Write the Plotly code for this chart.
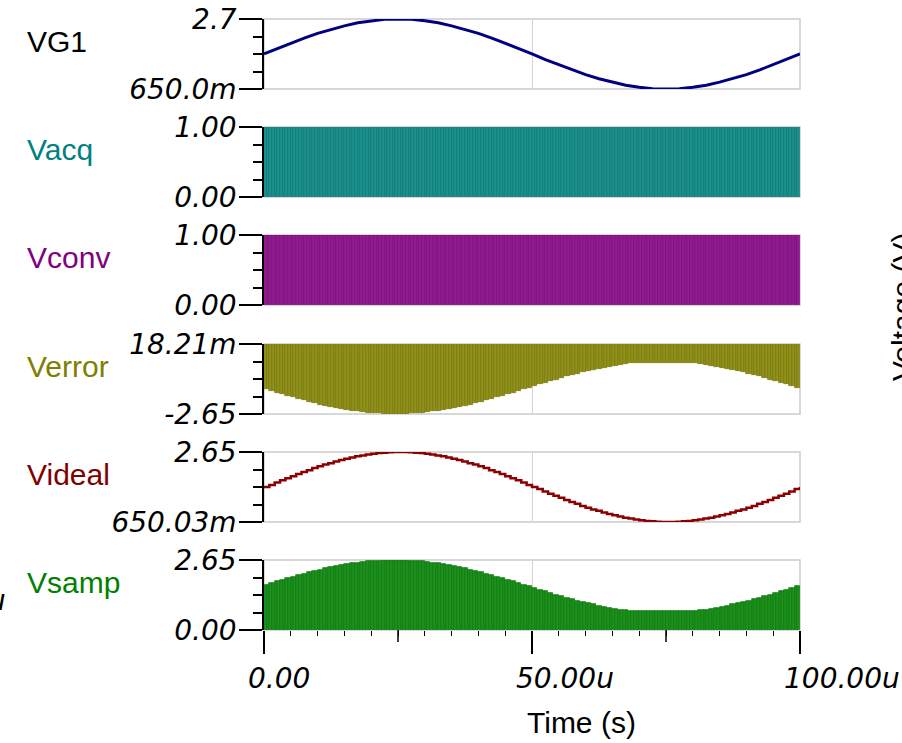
import numpy as np
import plotly.graph_objects as go

# ---- data (time in microseconds, voltages in volts) ----
vg1_t = np.linspace(0, 100, 41)
vg1 = [1.68, 1.84, 1.99, 2.14, 2.28, 2.40, 2.50, 2.59, 2.65, 2.69,
       2.70, 2.69, 2.65, 2.59, 2.50, 2.40, 2.28, 2.14, 1.99, 1.84,
       1.68, 1.51, 1.36, 1.21, 1.07, 0.95, 0.85, 0.76, 0.70, 0.66,
       0.65, 0.66, 0.70, 0.76, 0.85, 0.95, 1.07, 1.21, 1.36, 1.51,
       1.68]

videal_t = np.linspace(0, 100, 101)
videal = [1.65, 1.71, 1.78, 1.84, 1.90, 1.96, 2.02, 2.08, 2.13, 2.19,
          2.24, 2.29, 2.33, 2.38, 2.42, 2.46, 2.49, 2.53, 2.55, 2.58,
          2.60, 2.62, 2.63, 2.64, 2.65, 2.65, 2.65, 2.64, 2.63, 2.62,
          2.60, 2.58, 2.55, 2.53, 2.49, 2.46, 2.42, 2.38, 2.33, 2.29,
          2.24, 2.19, 2.13, 2.08, 2.02, 1.96, 1.90, 1.84, 1.78, 1.71,
          1.65, 1.59, 1.52, 1.46, 1.40, 1.34, 1.28, 1.22, 1.17, 1.11,
          1.06, 1.01, 0.97, 0.92, 0.88, 0.84, 0.81, 0.77, 0.75, 0.72,
          0.70, 0.68, 0.67, 0.66, 0.65, 0.65, 0.65, 0.66, 0.67, 0.68,
          0.70, 0.72, 0.75, 0.77, 0.81, 0.84, 0.88, 0.92, 0.97, 1.01,
          1.06, 1.11, 1.17, 1.22, 1.28, 1.34, 1.40, 1.46, 1.52, 1.59,
          1.65]

# held sample per 1 us clock cycle
vsamp = [1.71, 1.78, 1.84, 1.90, 1.96, 2.02, 2.08, 2.13, 2.19, 2.24,
         2.29, 2.33, 2.38, 2.42, 2.46, 2.49, 2.53, 2.55, 2.58, 2.60,
         2.62, 2.63, 2.64, 2.65, 2.65, 2.65, 2.64, 2.63, 2.62, 2.60,
         2.58, 2.55, 2.53, 2.49, 2.46, 2.42, 2.38, 2.33, 2.29, 2.24,
         2.19, 2.13, 2.08, 2.02, 1.96, 1.90, 1.84, 1.78, 1.71, 1.65,
         1.59, 1.52, 1.46, 1.40, 1.34, 1.28, 1.22, 1.17, 1.11, 1.06,
         1.01, 0.97, 0.92, 0.88, 0.84, 0.81, 0.77, 0.75, 0.72, 0.72,
         0.72, 0.72, 0.72, 0.72, 0.72, 0.72, 0.72, 0.72, 0.72, 0.72,
         0.72, 0.75, 0.77, 0.81, 0.84, 0.88, 0.92, 0.97, 1.01, 1.06,
         1.11, 1.17, 1.22, 1.28, 1.34, 1.40, 1.46, 1.52, 1.59, 1.65]

verror_low = [-1.71, -1.78, -1.84, -1.90, -1.96, -2.02, -2.08, -2.13, -2.19, -2.24,
              -2.29, -2.33, -2.38, -2.42, -2.46, -2.49, -2.53, -2.55, -2.58, -2.60,
              -2.62, -2.63, -2.64, -2.65, -2.65, -2.65, -2.64, -2.63, -2.62, -2.60,
              -2.58, -2.55, -2.53, -2.49, -2.46, -2.42, -2.38, -2.33, -2.29, -2.24,
              -2.19, -2.13, -2.08, -2.02, -1.96, -1.90, -1.84, -1.78, -1.71, -1.65,
              -1.59, -1.52, -1.46, -1.40, -1.34, -1.28, -1.22, -1.17, -1.11, -1.06,
              -1.01, -0.97, -0.92, -0.88, -0.84, -0.81, -0.77, -0.75, -0.72, -0.72,
              -0.72, -0.72, -0.72, -0.72, -0.72, -0.72, -0.72, -0.72, -0.72, -0.72,
              -0.72, -0.75, -0.77, -0.81, -0.84, -0.88, -0.92, -0.97, -1.01, -1.06,
              -1.11, -1.17, -1.22, -1.28, -1.34, -1.40, -1.46, -1.52, -1.59, -1.65]
verror_high = 0.01821

vacq_high = 1.0
vconv_high = 1.0

clock_period = 1.0          # us
phase_width = clock_period / 2
n_cycles = len(vsamp)
slot_t = np.arange(2 * n_cycles) * phase_width + phase_width / 2

# ---- panels ----
names = ["VG1", "Vacq", "Vconv", "Verror", "Videal", "Vsamp"]
name_colors = ["#000000", "#008080", "#800080", "#808000", "#800000", "#008000"]
y_ranges = [(0.65, 2.7), (0.0, 1.0), (0.0, 1.0), (-2.65, 0.01821), (0.65003, 2.65), (0.0, 2.65)]
y_ticktext = [("650.0m", "2.7"), ("0.00", "1.00"), ("0.00", "1.00"),
              ("-2.65", "18.21m"), ("650.03m", "2.65"), ("0.00", "2.65")]
x_tickvals = [0, 50, 100]
x_ticktext = ["0.00", "50.00u", "100.00u"]
x_mid_ticks = [25, 75]

W, H = 902, 743
ML, MR = 264, 102
PW = W - ML - MR
panel_tops = [19, 127, 235, 344, 452, 560]
panel_h = 70


def px_y(p):
    return 1 - p / H


def px_x(p):
    return (p - ML) / PW


label_font = "Liberation Sans, Arial, sans-serif"
tick_font = "DejaVu Sans, sans-serif"

fig = go.Figure()

# VG1
fig.add_trace(go.Scatter(x=vg1_t, y=vg1, mode="lines",
                         line=dict(color="#000080", width=3),
                         xaxis="x", yaxis="y", hoverinfo="skip"))

# Vacq / Vconv clock trains
fig.add_trace(go.Bar(x=slot_t, y=[vacq_high] * len(slot_t), width=phase_width,
                     marker=dict(color="#1b918d", line=dict(color="#0b7773", width=0.7)),
                     xaxis="x2", yaxis="y2", hoverinfo="skip"))
fig.add_trace(go.Bar(x=slot_t, y=[vconv_high] * len(slot_t), width=phase_width,
                     marker=dict(color="#911b91", line=dict(color="#770b77", width=0.7)),
                     xaxis="x3", yaxis="y3", hoverinfo="skip"))

# Verror
err_low = np.repeat(verror_low, 2)
fig.add_trace(go.Bar(x=slot_t, y=verror_high - err_low, base=err_low, width=phase_width,
                     marker=dict(color="#90901b", line=dict(color="#77770b", width=0.7)),
                     xaxis="x4", yaxis="y4", hoverinfo="skip"))

# Videal
fig.add_trace(go.Scatter(x=videal_t, y=videal, mode="lines", line_shape="hv",
                         line=dict(color="#8b0000", width=2.5),
                         xaxis="x5", yaxis="y5", hoverinfo="skip"))

# Vsamp
fig.add_trace(go.Bar(x=slot_t, y=np.repeat(vsamp, 2), width=phase_width,
                     marker=dict(color="#1b901b", line=dict(color="#0b770b", width=0.7)),
                     xaxis="x6", yaxis="y6", hoverinfo="skip"))

layout = dict(width=W, height=H, margin=dict(l=ML, r=MR, t=0, b=0, autoexpand=False),
              plot_bgcolor="white", paper_bgcolor="white",
              showlegend=False, barmode="overlay", bargap=0)

shapes = []
annotations = []
for i in range(6):
    k = "" if i == 0 else str(i + 1)
    top = panel_tops[i]
    dom = [px_y(top + panel_h), px_y(top)]
    lo, hi = y_ranges[i]
    bottom = (i == 5)
    layout["xaxis" + k] = dict(
        domain=[0, 1], anchor="y" + k, range=[0, 100], automargin=False,
        tickmode="array", tickvals=x_tickvals, showticklabels=False,
        showgrid=True, gridcolor="#d4d4d4", gridwidth=1,
        zeroline=False, showline=False,
        ticks="outside" if bottom else "", ticklen=23, tickwidth=1.5, tickcolor="black",
        minor=dict(ticks="outside", dtick=5, tick0=0, ticklen=5, tickwidth=1.2,
                   tickcolor="black", showgrid=False) if bottom else dict(ticks=""),
        fixedrange=True,
    )
    layout["yaxis" + k] = dict(
        domain=dom, anchor="x" + k, range=[lo, hi], automargin=False,
        tickmode="array", tickvals=[lo, hi], ticktext=list(y_ticktext[i]),
        tickfont=dict(family=tick_font, size=28, color="black", style="italic"),
        ticklabelstandoff=-3,
        ticks="outside", ticklen=23, tickwidth=1.5, tickcolor="black",
        minor=dict(ticks="outside", tick0=lo, dtick=(hi - lo) / 4, ticklen=9,
                   tickwidth=1.5, tickcolor="black", showgrid=False),
        showgrid=False, zeroline=False,
        showline=True, linecolor="black", linewidth=1.5,
        fixedrange=True,
    )
    shapes.append(dict(type="rect", xref="x" + k + " domain", yref="y" + k + " domain",
                       x0=0, x1=1, y0=0, y1=1, layer="below",
                       line=dict(color="#cccccc", width=1.5)))
    annotations.append(dict(text=names[i], x=px_x(25), y=px_y(top + 22),
                            xref="paper", yref="paper", xanchor="left", yanchor="middle",
                            showarrow=False,
                            font=dict(family=label_font, size=30, color=name_colors[i])))

# medium-length ticks at the quarter points of the time axis
for xm in x_mid_ticks:
    shapes.append(dict(type="line", xref="x6", yref="y6 domain",
                       x0=xm, x1=xm, y0=0, y1=-12 / panel_h,
                       line=dict(color="black", width=1.5)))

# time tick labels
for xv, tt in zip(x_tickvals, x_ticktext):
    annotations.append(dict(text=tt, x=xv, y=px_y(678), xref="x6", yref="paper",
                            xanchor="left", yanchor="middle", xshift=-18, showarrow=False,
                            font=dict(family=tick_font, size=28, color="black", style="italic")))

annotations.append(dict(text="Time (s)", x=px_x(581), y=px_y(722), xref="paper", yref="paper",
                        xanchor="center", yanchor="middle", showarrow=False,
                        font=dict(family=label_font, size=30, color="black")))
annotations.append(dict(text="Voltage (V)", x=px_x(903), y=px_y(307), xref="paper", yref="paper",
                        xanchor="center", yanchor="middle", textangle=-90, showarrow=False,
                        font=dict(family=label_font, size=30, color="black")))
annotations.append(dict(text="u", x=px_x(8), y=px_y(600), xref="paper", yref="paper",
                        xanchor="right", yanchor="middle", showarrow=False,
                        font=dict(family=tick_font, size=28, color="black", style="italic")))

layout["shapes"] = shapes
layout["annotations"] = annotations
fig.update_layout(**layout)

fig.write_html("out.html", config=dict(displayModeBar=False))
